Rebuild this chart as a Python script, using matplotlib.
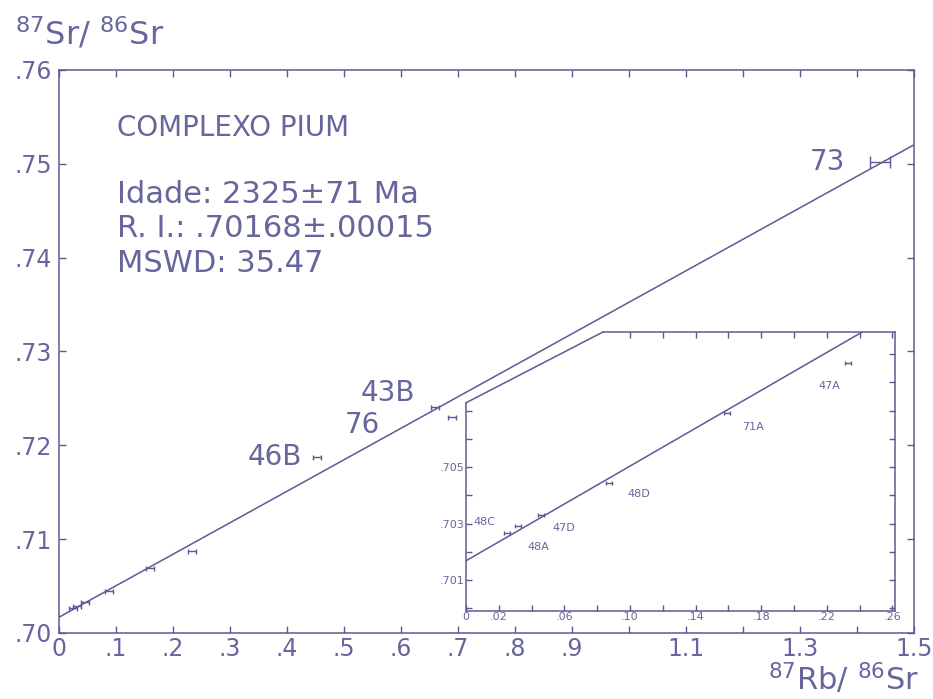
import numpy as np
import matplotlib
matplotlib.use('Agg')
import matplotlib.pyplot as plt
from matplotlib.path import Path

# Rb-Sr whole-rock isochron, Complexo Pium
samples = ['48A', '48C', '47D', '48D', '71A', '47A', '46B', '76', '43B', '73']
rb_sr = [0.025, 0.032, 0.046, 0.087, 0.159, 0.233, 0.453, 0.689, 0.660, 1.440]
sr_sr = [0.70267, 0.70290, 0.70330, 0.70444, 0.70692, 0.70870,
         0.71876, 0.72300, 0.72410, 0.75020]
inset_samples = ['48A', '48C', '47D', '48D', '71A', '47A']
main_labelled = ['46B', '76', '43B', '73']

age_ma = 2325
age_err = 71
ri = 0.70168
ri_err = 0.00015
mswd = 35.47
lam = 1.42e-11          # 87Rb decay constant (1/yr)

x_ticks = [0, .1, .2, .3, .4, .5, .6, .7, .8, .9, 1.0, 1.1, 1.2, 1.3, 1.4, 1.5]
x_labels = ['0', '.1', '.2', '.3', '.4', '.5', '.6', '.7', '.8', '.9',
            '', '1.1', '', '1.3', '', '1.5']
y_ticks = [.70, .71, .72, .73, .74, .75, .76]
y_labels = ['.70', '.71', '.72', '.73', '.74', '.75', '.76']

in_x_ticks = [0, .02, .04, .06, .08, .10, .12, .14, .16, .18, .20, .22, .24, .26]
in_x_labels = ['0', '.02', '', '.06', '', '.10', '', '.14', '', '.18', '', '.22', '', '.26']
in_y_ticks = [.700, .701, .702, .703, .704, .705, .706, .707, .708, .709]
in_y_labels = ['', '.701', '', '.703', '', '.705', '', '', '', '']

INK = '#5b5b93'
TXT = '#66669c'
slope = np.expm1(lam * age_ma * 1e6)

# little "H" symbol used by the plotter for each analysis
hmark = Path([(-1, -.6), (-1, .6), (-1, 0), (1, 0), (1, -.6), (1, .6)],
             [Path.MOVETO, Path.LINETO, Path.MOVETO, Path.LINETO,
              Path.MOVETO, Path.LINETO])

fig = plt.figure(figsize=(9.33, 6.99), dpi=100)
ax = fig.add_axes([59/933, 1-633/699, 855/933, 563/699])
ax.set_xlim(0, 1.5)
ax.set_ylim(.70, .76)

xx = np.linspace(0, 1.5, 50)
ax.plot(xx, ri + slope*xx, color=INK, lw=1.1)
for name, x, y in zip(samples, rb_sr, sr_sr):
    ax.plot(x, y, ls='none', marker=hmark, ms=(14 if name == '73' else 6),
            mec=INK, mew=1.0)

offsets = {'46B': (-15, 0), '76': (-72, -8), '43B': (-20, 14), '73': (-35, 0)}
for name in main_labelled:
    i = samples.index(name)
    ax.annotate(name, (rb_sr[i], sr_sr[i]), xytext=offsets[name],
                textcoords='offset pixels', ha='right', va='center',
                fontsize=20, color=TXT)

ax.set_xticks(x_ticks)
ax.set_xticklabels(x_labels)
ax.set_yticks(y_ticks)
ax.set_yticklabels(y_labels)
ax.tick_params(direction='in', length=5, width=1, color=INK, labelcolor=TXT,
               labelsize=17, top=True, right=True, pad=3)
ax.tick_params(axis='y', pad=5)
for s in ax.spines.values():
    s.set_color(INK)
    s.set_linewidth(1.1)

tx = dict(transform=ax.transAxes, color=TXT, ha='left', va='center')
ax.text(0.068, 0.897, 'COMPLEXO PIUM', fontsize=20, **tx)
ax.text(0.068, 0.778, f'Idade: {age_ma}\u00b1{age_err} Ma', fontsize=22, **tx)
ax.text(0.068, 0.719, f'R. I.: {ri:.5f}\u00b1{ri_err:.5f}'.replace('0.', '.'),
        fontsize=22, **tx)
ax.text(0.068, 0.657, f'MSWD: {mswd}', fontsize=22, **tx)

fig.text(0.016, 1-45/699, r'$^{87}$Sr/ $^{86}$Sr', fontsize=23, color=TXT,
         ha='left', va='baseline')
fig.text(0.985, 0.012, r'$^{87}$Rb/ $^{86}$Sr', fontsize=22, color=TXT,
         ha='right', va='baseline')

# enlarged view of the low Rb/Sr samples
ax_in = fig.add_axes([466/933, 1-611/699, 429/933, 279/699])
ax_in.set_facecolor('none')
in_top = .70979
cut_x, cut_y = .0835, .70728
ax_in.set_xlim(0, .2616)
ax_in.set_ylim(.6999, in_top)
xi = np.linspace(0, .2616, 50)
ax_in.plot(xi, ri + slope*xi, color=INK, lw=1.1)

in_offsets = {'48A': (20, -14), '48C': (-45, 4), '47D': (11, -13),
              '48D': (19, -11), '71A': (15, -14), '47A': (-30, -23)}
for name in inset_samples:
    i = samples.index(name)
    ax_in.plot(rb_sr[i], sr_sr[i], ls='none', marker=hmark, ms=5,
               mec=INK, mew=1.0)
    ax_in.annotate(name, (rb_sr[i], sr_sr[i]), xytext=in_offsets[name],
                   textcoords='offset pixels', ha='left', va='center',
                   fontsize=8, color=TXT)

ax_in.set_xticks(in_x_ticks)
ax_in.set_xticklabels(in_x_labels)
ax_in.set_yticks(in_y_ticks)
ax_in.set_yticklabels(in_y_labels)
ax_in.tick_params(direction='in', length=4, width=1, color=INK, labelcolor=TXT,
                  labelsize=8, top=True, right=True, pad=1)
for s in ax_in.spines.values():
    s.set_color(INK)
    s.set_linewidth(1.1)
# frame is cut along the isochron at the upper left
ax_in.spines['top'].set_bounds(cut_x, .2616)
ax_in.spines['left'].set_bounds(.6999, cut_y)
ax_in.plot([0, cut_x], [cut_y, in_top], color=INK, lw=1.1, clip_on=False)
for t in ax_in.xaxis.get_major_ticks():
    if t.get_loc() < cut_x:
        t.tick2line.set_visible(False)
for t in ax_in.yaxis.get_major_ticks():
    if t.get_loc() > cut_y:
        t.tick1line.set_visible(False)

fig.savefig('out.png', dpi=100)
